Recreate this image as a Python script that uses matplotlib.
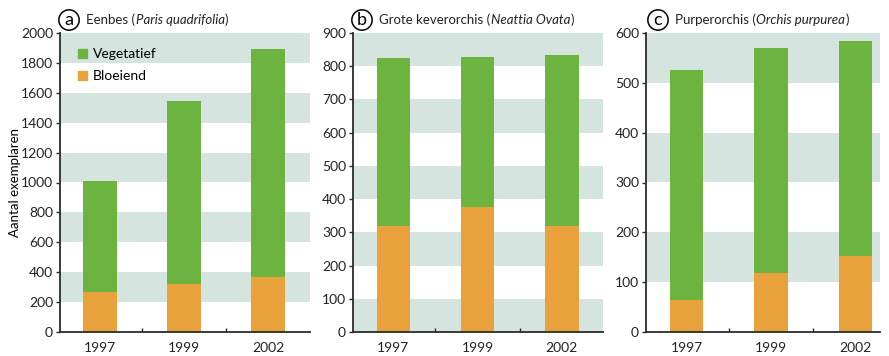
import numpy as np
import matplotlib
matplotlib.use("Agg")
import matplotlib.pyplot as plt
from matplotlib.patches import Patch

plt.rcParams["font.family"] = ["Lato", "DejaVu Sans"]

years = ["1997", "1999", "2002"]

# totals per year and flowering part (vegetative = total - flowering)
eenbes_total = [1010, 1545, 1890]
eenbes_bloei = [265, 320, 365]
keverorchis_total = [825, 828, 833]
keverorchis_bloei = [318, 375, 318]
purperorchis_total = [525, 570, 583]
purperorchis_bloei = [65, 118, 152]

names = ["Eenbes (", "Grote keverorchis (", "Purperorchis ("]
latin = ["Paris quadrifolia", "Neattia Ovata", "Orchis purpurea"]
letters = ["a", "b", "c"]
ymax = [2000, 900, 600]
ystep = [200, 100, 100]

green = "#6db33f"
orange = "#e9a23b"
band = "#d6e4e0"
axcol = "#2b2b2b"

fig = plt.figure(figsize=(8.89, 3.56), dpi=100)

# axes rectangles in pixels: left, right
boxes = [(60, 310), (353, 603), (646, 880)]
xr = [2.5, 2.49, 2.29]

data = [(eenbes_total, eenbes_bloei),
        (keverorchis_total, keverorchis_bloei),
        (purperorchis_total, purperorchis_bloei)]

axes = []
for i, (l, r) in enumerate(boxes):
    ax = fig.add_axes([l / 889, 1 - 332 / 356, (r - l) / 889, 299 / 356])
    axes.append(ax)
    total, bloei = data[i]
    total = np.array(total)
    bloei = np.array(bloei)
    x = np.arange(len(years))

    # alternating shaded bands, top one shaded
    step = ystep[i]
    top = ymax[i]
    while top > 0:
        ax.axhspan(top - step, top, color=band, lw=0, zorder=0)
        top -= 2 * step

    ax.bar(x, bloei, width=0.4, color=orange, zorder=2)
    ax.bar(x, total - bloei, width=0.4, bottom=bloei, color=green, zorder=2)

    ax.set_xlim(-0.48, xr[i])
    ax.set_ylim(0, ymax[i])
    ax.set_yticks(np.arange(0, ymax[i] + 1, step))
    ax.set_xticks(x)
    ax.set_xticklabels(years)
    ax.set_xticks([0.5, 1.5], minor=True)
    ax.tick_params(axis="x", which="major", length=0, labelsize=10, pad=7,
                   colors="#222222")
    ax.tick_params(axis="x", which="minor", length=3, direction="in",
                   color=axcol, width=1)
    ax.tick_params(axis="y", length=3, width=1, color=axcol, labelsize=10,
                   pad=2, colors="#222222")
    for s in ["top", "right"]:
        ax.spines[s].set_visible(False)
    for s in ["left", "bottom"]:
        ax.spines[s].set_color(axcol)
        ax.spines[s].set_linewidth(1.3)
        ax.spines[s].set_zorder(3)

axes[0].set_ylabel("Aantal exemplaren", fontsize=9.5, labelpad=0)

axes[0].legend(handles=[Patch(color=green, label="Vegetatief"),
                        Patch(color=orange, label="Bloeiend")],
               loc="upper left", bbox_to_anchor=(0.02, 0.99), frameon=False,
               handlelength=0.65, handleheight=0.65, handletextpad=0.45,
               labelspacing=0.7, fontsize=10)

# titles: circled letter, plain name, italic latin name, closing bracket
circle_x = [69, 362, 658]
fig.canvas.draw()
renderer = fig.canvas.get_renderer()
for i in range(3):
    cy = 1 - 20 / 356
    fig.text(circle_x[i] / 889, cy, letters[i], fontsize=13, ha="center",
             va="center",
             bbox=dict(boxstyle="circle,pad=0.12", fc="white", ec="black",
                       lw=1.1))
    xpos = circle_x[i] + 17
    for txt, style in [(names[i], "normal"), (latin[i], "italic"),
                       (")", "normal")]:
        t = fig.text(xpos / 889, cy, txt, fontsize=9.5, style=style,
                     ha="left", va="center", color="#222222")
        xpos = t.get_window_extent(renderer).x1 + 0.5

fig.savefig("out.png", dpi=100)
